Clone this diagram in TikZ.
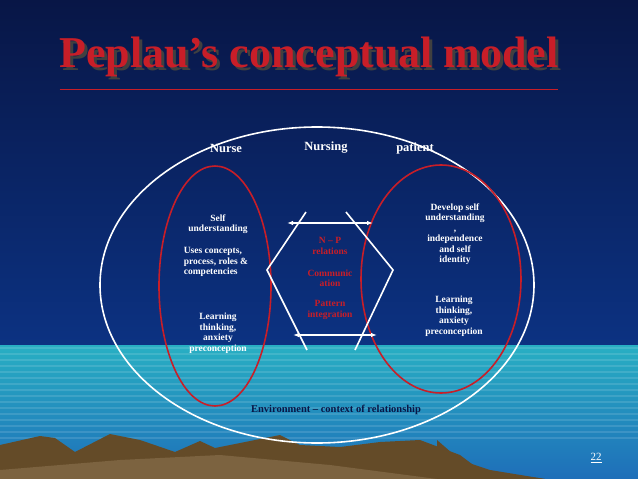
\documentclass[tikz,border=0pt]{standalone}
\usepackage{fontspec}
\setmainfont{Liberation Serif}
\usetikzlibrary{arrows.meta}
\definecolor{navy}{RGB}{8,22,70}
\definecolor{deepblue}{RGB}{12,50,130}
\definecolor{aqua}{RGB}{40,175,195}
\definecolor{sea}{RGB}{30,110,185}
\definecolor{redc}{RGB}{200,30,40}
\definecolor{brownm}{RGB}{100,75,40}
\definecolor{brownl}{RGB}{130,105,70}
\tikzset{
 wt/.style={text=white,font=\bfseries\fontsize{9.5}{10.5}\selectfont,align=center},
 rt/.style={text=redc,font=\bfseries\fontsize{9.5}{10.5}\selectfont,align=center},
 hd/.style={text=white,font=\bfseries\fontsize{12.5}{13}\selectfont},
 wl/.style={white,line width=1.6pt},
 dar/.style={white,line width=1.6pt,{Latex[length=6pt]}-{Latex[length=6pt]}},
}
\begin{document}
\begin{tikzpicture}[x=1pt,y=-1pt]
\useasboundingbox (0,0) rectangle (638,479);
\shade[top color=navy,bottom color=deepblue] (0,0) rectangle (638,345);
\shade[top color=aqua,bottom color=sea] (0,345) rectangle (638,479);
\foreach \yy in {348,354,...,440} \draw[white,opacity=0.12,line width=1.5pt] (0,\yy)--(638,\yy);
\fill[brownm] (0,445) -- (40,436) -- (55,438) -- (75,452) -- (110,434) -- (140,440) -- (175,452) -- (200,441) -- (215,448) -- (280,435) -- (300,445) -- (340,447) -- (380,442) -- (420,440) -- (460,455) -- (480,470) -- (545,479) -- (0,479) -- cycle;
\fill[brownl,opacity=0.8] (0,470) -- (120,460) -- (220,455) -- (330,465) -- (437,479) -- (0,479) -- cycle;
\fill[brownm] (437,440) -- (460,460) -- (490,470) -- (545,479) -- (437,479) -- cycle;
\node (title) at (312,60) {\textcolor{black!75}{\fontsize{44}{46}\selectfont\bfseries Peplau’s conceptual model}};
\node (title2) at (309,57) {\textcolor{redc}{\fontsize{44}{46}\selectfont\bfseries Peplau’s conceptual model}};
\draw[redc,line width=1.5pt] ([xshift=4pt,yshift=-9pt]title2.south west) -- ([xshift=-4pt,yshift=-9pt]title2.south east);
\draw[white,line width=1.6pt] (317,285) ellipse [x radius=217, y radius=158];
\draw[redc,line width=1.6pt] (215,286) ellipse [x radius=56, y radius=120];
\draw[redc,line width=1.6pt] (441,279) ellipse [x radius=80, y radius=114];
\node[hd] (nurse) at (226,148) {Nurse};
\node[hd] (nursing) at (326,148) {Nursing};
\node[hd] (patient) at (415,148) {patient};
\coordinate (l1) at (306,212); \coordinate (l2) at (267,270); \coordinate (l3) at (307,350);
\coordinate (r1) at (346,212); \coordinate (r2) at (393,270); \coordinate (r3) at (355,350);
\draw[wl] (l1)--(l2)--(l3);
\draw[wl] (r1)--(r2)--(r3);
\coordinate (a1) at (287,223); \coordinate (a2) at (373,223);
\coordinate (b1) at (293,335); \coordinate (b2) at (377,335);
\draw[dar] (a1)--(a2);
\draw[dar] (b1)--(b2);
\node[rt] (np) at (330,246) {N – P\\relations};
\node[rt] (comm) at (330,278) {Communic\\ation};
\node[rt] (pat) at (330,310) {Pattern\\integration};
\node[wt] (su) at (218,224) {Self\\understanding};
\node[wt,align=left] (uc) at (216,262) {Uses concepts,\\process, roles \&\\competencies};
\node[wt] (lt) at (218,333) {Learning\\thinking,\\anxiety\\preconception};
\node[wt] (dev) at (455,234) {Develop self\\understanding\\,\\independence\\and self\\identity};
\node[wt] (lt2) at (454,316) {Learning\\thinking,\\anxiety\\preconception};
\node[text=navy,font=\bfseries\fontsize{10.5}{11}\selectfont] (env) at (336,410) {Environment – context of relationship};
\node[text=white,font=\fontsize{11}{12}\selectfont] (pg) at (596,458) {\underline{22}};
\end{tikzpicture}
\end{document}
